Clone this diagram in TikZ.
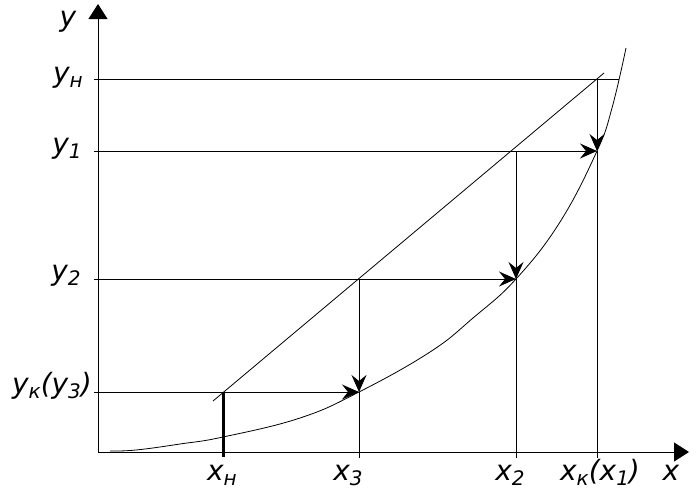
\documentclass[tikz,border=0pt]{standalone}
\usepackage{fontspec}
\setmainfont{DejaVu Sans}
\usetikzlibrary{arrows.meta}
\newcommand{\bigi}[1]{{\fontsize{28}{30}\selectfont\itshape #1}}
\newcommand{\subi}[1]{\raisebox{-5pt}{\fontsize{20}{22}\selectfont\itshape #1}}
\begin{document}
\begin{tikzpicture}[x=1pt,y=-1pt,
  axis/.style={line width=1pt,-{Triangle[length=15pt,width=19pt]}},
  ln/.style={line width=1pt},
  fine/.style={line width=0.8pt},
  thickln/.style={line width=3pt},
  itarr/.style={line width=1pt,-{Stealth[length=17pt,width=15pt,inset=6pt]}},
  lab/.style={inner sep=0pt,anchor=base}]
\useasboundingbox (0,0) rectangle (699,499);
% axes
\coordinate (O) at (98,452);
\coordinate (Ytop) at (98,4);
\coordinate (Xend) at (689,452);
\draw[axis] (O) -- (Ytop);
\draw[axis] (O) -- (Xend);
% level points
\coordinate (Lh) at (94,79);
\coordinate (L1) at (94,151);
\coordinate (L2) at (94,279);
\coordinate (Lk) at (94,392);
\coordinate (Cn) at (619,79);
\coordinate (C1) at (597,151);
\coordinate (C2) at (516,279);
\coordinate (C3) at (359,392);
\coordinate (Dk) at (597,79);
\coordinate (D2) at (516,151);
\coordinate (D3) at (359,279);
\coordinate (Dn) at (223,392);
\coordinate (Bn) at (223,457);
\coordinate (B3) at (359,458);
\coordinate (B2) at (516,458);
\coordinate (Bk) at (597,458);
\coordinate (Ds) at (213,401);
\coordinate (De) at (604,73);
% diagonal
\draw[fine] (Ds) -- (De);
% curve
\draw[fine] plot[smooth,tension=0.7] coordinates {(110,451) (136,450) (180,444) (223,437) (300,418) (359,392) (430,352) (473,318) (516,279) (560,222) (597,151) (612,108) (626,48)};
% horizontal lines
\draw[ln] (Lh) -- (Cn);
\draw[itarr] (L1) -- (C1);
\draw[itarr] (L2) -- (C2);
\draw[itarr] (Lk) -- (C3);
% vertical lines
\draw[ln] (C1) -- (Bk);
\draw[ln] (C2) -- (B2);
\draw[ln] (C3) -- (B3);
\draw[itarr] (Dk) -- (C1);
\draw[itarr] (D2) -- (C2);
\draw[itarr] (D3) -- (C3);
\draw[thickln] (Dn) -- (Bn);
% labels
\node[lab] (ly) at (68,26) {\bigi{y}};
\node[lab] (lyh) at (68,82) {\bigi{y}\subi{н}};
\node[lab] (ly1) at (67,153) {\bigi{y}\subi{1}};
\node[lab] (ly2) at (66,280) {\bigi{y}\subi{2}};
\node[lab] (lyk) at (52,393) {\bigi{y}\subi{к}\bigi{(y}\subi{3}\bigi{)}};
\node[lab] (lxn) at (222,480) {\bigi{x}\subi{н}};
\node[lab] (lx3) at (348,480) {\bigi{x}\subi{3}};
\node[lab] (lx2) at (510,480) {\bigi{x}\subi{2}};
\node[lab] (lxk) at (600,480) {\bigi{x}\subi{к}\bigi{(x}\subi{1}\bigi{)}};
\node[lab] (lx) at (671,480) {\bigi{x}};
\end{tikzpicture}
\end{document}
